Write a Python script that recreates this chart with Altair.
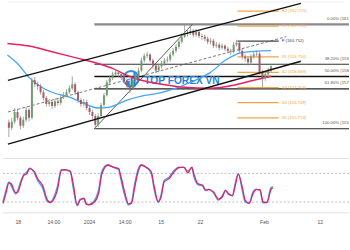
import altair as alt
import pandas as pd

# ---------------- price candles (bar index 0..91) ----------------
closes = [155.06,155.45,156.10,155.71,155.19,155.58,156.23,155.71,158.18,157.92,
          157.79,157.40,157.01,156.62,156.75,156.49,156.81,156.68,157.07,157.20,
          157.40,157.66,157.92,157.40,156.88,156.62,156.75,156.36,156.10,155.84,
          155.25,155.84,156.55,157.20,158.05,158.31,158.57,158.70,158.57,158.37,
          158.18,157.79,157.66,158.18,158.50,158.83,159.48,159.80,159.87,159.48,
          159.15,158.83,159.09,159.28,159.48,159.54,159.87,160.13,160.39,160.71,
          161.04,161.23,161.30,161.43,161.17,161.36,161.10,161.04,160.91,160.71,
          160.78,160.45,160.52,160.32,160.45,160.26,160.13,160.06,160.52,160.65,
          160.13,159.74,159.61,159.35,159.74,159.87,159.93,158.70,158.31,158.57,
          158.83,159.09]
highs = [155.60,155.70,156.35,156.30,155.85,155.80,156.45,156.35,158.35,158.40,
         158.10,157.95,157.55,157.15,156.95,156.90,157.00,156.95,157.25,157.40,
         157.60,157.85,158.44,158.05,157.50,157.00,156.95,156.90,156.50,156.25,
         155.95,156.00,156.70,157.35,158.20,158.50,158.75,158.90,158.85,158.70,
         158.50,158.30,157.95,158.35,158.65,159.00,159.65,159.95,160.06,159.95,
         159.60,159.25,159.25,159.45,159.65,159.75,160.05,160.30,160.55,160.90,
         161.25,161.86,161.55,161.75,161.55,161.55,161.45,161.25,161.20,161.05,
         160.95,160.90,160.70,160.65,160.60,160.55,160.40,160.25,160.70,160.84,
         160.75,160.25,159.90,159.75,159.90,160.05,160.15,160.05,158.85,158.75,
         159.00,159.25]
lows = [154.45,154.90,155.30,155.55,154.95,155.05,155.45,155.50,155.60,157.75,
        157.55,157.25,156.85,156.45,156.45,156.30,156.35,156.50,156.55,156.95,
        157.05,157.30,157.55,157.25,156.70,156.45,156.45,156.20,155.90,155.65,
        155.00,155.10,155.70,156.45,157.10,157.90,158.20,158.45,158.40,158.20,
        158.00,157.60,157.33,157.55,158.05,158.40,158.70,159.35,159.65,159.35,
        158.95,158.65,158.70,158.95,159.15,159.35,159.40,159.75,160.00,160.25,
        160.60,160.95,161.05,161.15,161.00,161.05,160.95,160.85,160.75,160.55,
        160.55,160.30,160.30,160.15,160.20,160.10,159.95,159.85,159.95,160.40,
        159.95,159.55,159.40,159.15,159.20,159.60,159.75,158.55,157.72,158.15,
        158.40,158.70]
first_open = 155.40

# ---------------- moving averages ----------------
pink_i = [-0.5, 7, 15, 23, 31, 36, 41, 46, 53, 61, 70, 78, 85, 91]
pink_v = [160.60,160.43,160.06,159.67,159.28,158.96,158.50,158.18,157.92,157.72,157.66,157.85,158.18,158.44]
blue_i = [-0.5, 3, 7, 12, 16, 21, 25, 31, 35, 41, 46, 52, 58, 63, 70, 75, 81, 91]
blue_v = [159.85,159.28,158.37,157.66,157.33,157.07,156.75,156.36,156.42,156.88,157.14,157.33,157.66,158.05,158.70,159.48,160.00,160.13]

# ---------------- pivots and fibonacci ----------------
pivot_names = ["R2", "R1", "P", "S1", "S2", "S3", "S4", "S5"]
pivot_vals = [162.725, 161.739, 160.752, 159.716, 158.699, 157.703, 156.708, 155.713]
fib_names = ["0.00%", "38.20%", "50.00%", "61.80%", "100.00%"]
fib_vals = [161.860, 159.240, 158.430, 157.620, 155.000]

# trend lines (bar index, price)
chan_up = [(-0.33, 158.175), (101.33, 163.245)]
chan_lo = [(-0.33, 153.985), (101.33, 159.435)]
chan_mid = [(-0.33, 156.095), (96.33, 161.05)]
fib_diag = [(29.67, 155.00), (63.67, 161.86)]

# ---------------- stochastic ----------------
osc_t = [-0.33,0.67,1.67,2.33,4.0,4.67,5.67,6.67,7.67,8.67,
         10.33,11.33,13.0,14.67,15.67,17.0,18.0,19.33,20.67,22.33,
         23.33,24.67,25.67,27.0,27.67,28.67,30.67,32.0,33.0,35.0,
         37.0,38.67,39.33,40.67,42.0,43.0,44.0,45.33,46.33,48.0,
         49.67,50.67,52.0,53.0,54.0,55.67,57.33,59.0,60.67,62.0,
         63.33,64.0,65.33,67.0,68.0,69.0,70.67,72.33,73.67,74.67,
         75.67,77.0,78.0,79.0,80.33,81.33,82.67,84.0,85.0,86.33,
         87.33,88.67,90.0,90.67]
osc_d = [17,38,60,59,39,41,59,76,79,90,83,69,55,24,19,28,45,86,88,85,
         59,14,24,28,17,14,21,41,79,97,93,90,76,41,16,17,48,86,97,93,
         83,52,21,31,62,69,83,92,93,81,93,79,59,55,45,46,41,26,31,44,
         38,33,55,78,52,24,17,38,46,46,21,19,46,50]
osc_k = [20,45,62,55,37,45,64,77,83,91,80,65,50,21,20,33,52,88,87,83,
         50,12,26,27,15,15,25,48,84,98,92,88,70,35,14,20,56,90,98,92,
         80,45,19,36,65,72,86,93,92,85,92,74,57,53,44,47,39,24,34,45,
         36,34,60,80,45,20,18,42,47,44,18,20,50,52]

tick_pos = [4.67, 16.67, 28.67, 40.67, 52.83, 66.1, 87.67, 106.5]
tick_text = ["18", "14:00", "2024", "14:00", "15", "22", "Feb", "12"]

# ---------------- styles ----------------
XD = [-1/3, 350/3 - 1/3]
xs = alt.Scale(domain=XD, nice=False, zero=False)
ys = alt.Scale(domain=[153.495, 163.375], nice=False, zero=False)
os_ = alt.Scale(domain=[-2.7, 111.2], nice=False, zero=False)
UP, DOWN = "#6f9c6c", "#a65a6c"
ORANGE = "#f5a540"
FONT = "Liberation Sans"

opens = [first_open] + closes[:-1]
cdf = pd.DataFrame({"i": list(range(len(closes))), "o": opens, "h": highs, "l": lows, "c": closes})

X = alt.X("x:Q", scale=xs, axis=None)

def seg_df(pts):
    return pd.DataFrame({"x": [pts[0][0]], "x2": [pts[1][0]], "y": [pts[0][1]], "y2": [pts[1][1]]})

def seg(pts, color, width, dash=None):
    kw = dict(color=color, strokeWidth=width, clip=True)
    if dash:
        kw["strokeDash"] = dash
    return alt.Chart(seg_df(pts)).mark_rule(**kw).encode(
        x=X, x2="x2:Q", y=alt.Y("y:Q", scale=ys, axis=None), y2="y2:Q")

# fib horizontal lines
fib_colors = ["#8a8a8a", "#333333", "#111111", "#222222", "#222222"]
fib_widths = [2.2, 1.1, 1.6, 1.3, 1.1]
fdf = pd.DataFrame({"name": fib_names, "v": fib_vals, "col": fib_colors, "w": fib_widths})
fdf["x"] = fib_diag[0][0]
fdf["x2"] = XD[1] + 5
fdf["lx"] = 121.33
fdf["label"] = [f"{n} ({v:.3f})" for n, v in zip(fib_names, fib_vals)]

fib_lines = alt.Chart(fdf).mark_rule(clip=True).encode(
    x=X, x2="x2:Q", y=alt.Y("v:Q", scale=ys, axis=None),
    color=alt.Color("col:N", scale=None), strokeWidth=alt.StrokeWidth("w:Q", scale=None))
fib_text = alt.Chart(fdf).mark_text(align="right", baseline="bottom", dy=-3.5, fontSize=4.3,
                                     font=FONT, color="#555555", clip=True).encode(
    x=alt.X("lx:Q", scale=xs, axis=None), y=alt.Y("v:Q", scale=ys, axis=None), text="label:N")

pdf = pd.DataFrame({"name": pivot_names, "v": pivot_vals})
pdf["x"] = 79.33
pdf["x2"] = 93.67
pdf["lx"] = 94.67
pdf["col"] = [("#444444" if n == "P" else ORANGE) for n in pivot_names]
pdf["label"] = [f"{n} ({v:.3f})" for n, v in zip(pivot_names, pivot_vals)]
piv_lines = alt.Chart(pdf).mark_rule(strokeWidth=1.2, clip=True).encode(
    x=X, x2="x2:Q", y=alt.Y("v:Q", scale=ys, axis=None), color=alt.Color("col:N", scale=None))
piv_text = alt.Chart(pdf).mark_text(align="left", baseline="middle", fontSize=4.3, font=FONT, clip=True).encode(
    x=alt.X("lx:Q", scale=xs, axis=None), y=alt.Y("v:Q", scale=ys, axis=None),
    text="label:N", color=alt.Color("col:N", scale=None))

pink = alt.Chart(pd.DataFrame({"x": pink_i, "v": pink_v})).mark_line(
    color="#e91e63", strokeWidth=1.5, interpolate="monotone", clip=True).encode(
    x=X, y=alt.Y("v:Q", scale=ys, axis=None))
blue = alt.Chart(pd.DataFrame({"x": blue_i, "v": blue_v})).mark_line(
    color="#42a5f5", strokeWidth=1.3, interpolate="monotone", clip=True).encode(
    x=X, y=alt.Y("v:Q", scale=ys, axis=None))

wick = alt.Chart(cdf).mark_rule(color="#8c8c8c", strokeWidth=0.8, clip=True).encode(
    x=alt.X("i:Q", scale=xs, axis=None), y=alt.Y("l:Q", scale=ys, axis=None), y2="h:Q")
body = alt.Chart(cdf).mark_bar(size=2, clip=True).encode(
    x=alt.X("i:Q", scale=xs, axis=None), y=alt.Y("o:Q", scale=ys, axis=None), y2="c:Q",
    color=alt.condition("datum.c >= datum.o", alt.value(UP), alt.value(DOWN)))

# watermark
wm = alt.Chart(pd.DataFrame({"x": [47.0], "v": [158.11], "t": ["TOP FOREX VN"]})).mark_text(
    align="left", baseline="middle", fontSize=10.3, fontWeight="bold", font=FONT, color="#1f84d8").encode(
    x=X, y=alt.Y("v:Q", scale=ys, axis=None), text="t:N")
logo_ring = alt.Chart(pd.DataFrame({"x": [42.4], "v": [158.30]})).mark_point(
    shape="circle", filled=False, size=230, strokeWidth=2.2, color="#1f84d8", opacity=0.9).encode(
    x=X, y=alt.Y("v:Q", scale=ys, axis=None))
logo_bars = alt.Chart(pd.DataFrame({"x": [41.6, 42.6, 43.6], "y": [157.72, 157.72, 157.72],
                                    "y2": [158.15, 158.45, 158.75]})).mark_rule(
    strokeWidth=2, color="#1f84d8").encode(x=X, y=alt.Y("y:Q", scale=ys, axis=None), y2="y2:Q")

top_line = alt.Chart(pd.DataFrame({"x": [XD[0]], "x2": [XD[1]], "v": [163.33]})).mark_rule(
    color="#eeeeee", strokeWidth=1).encode(x=X, x2="x2:Q", y=alt.Y("v:Q", scale=ys, axis=None))

price = alt.layer(
    top_line, fib_lines, piv_lines,
    seg(fib_diag, "#333333", 0.8),
    seg(chan_mid, "#555555", 0.8, [3, 2]),
    wm, logo_ring, logo_bars,
    blue, pink, wick, body,
    seg(chan_up, "#111111", 1.3), seg(chan_lo, "#111111", 1.4),
    fib_text, piv_text,
).properties(width=350, height=152)

# ---------------- oscillator ----------------
odf = pd.DataFrame({"x": osc_t, "k": osc_k, "d": osc_d})
lab_expr = " : ".join(
    f"datum.value < {((tick_pos[j] + tick_pos[j + 1]) / 2):.2f} ? '{tick_text[j]}'" for j in range(len(tick_pos) - 1)
) + f" : '{tick_text[-1]}'"
XO = alt.X("x:Q", scale=xs, axis=alt.Axis(values=tick_pos, labelExpr=lab_expr, domain=False, ticks=False,
                                          grid=False, labelFontSize=5.2, labelColor="#555555", labelFont=FONT,
                                          labelPadding=7, title=None, labelFlush=False))
frame = alt.Chart(pd.DataFrame({"x": [XD[0], XD[0]], "x2": [XD[1], XD[1]], "v": [111.2, -2.7]})).mark_rule(
    color="#e3e3e3", strokeWidth=1).encode(x=XO, x2="x2:Q", y=alt.Y("v:Q", scale=os_, axis=None))
levels = alt.Chart(pd.DataFrame({"x": [XD[0], XD[0]], "x2": [XD[1], XD[1]], "v": [80, 20]})).mark_rule(
    color="#a0a0a0", strokeWidth=0.7, strokeDash=[2, 2]).encode(
    x=XO, x2="x2:Q", y=alt.Y("v:Q", scale=os_, axis=None))
kline = alt.Chart(odf).mark_line(color="#42a5f5", strokeWidth=1.4, interpolate="monotone").encode(
    x=XO, y=alt.Y("k:Q", scale=os_, axis=None))
dline = alt.Chart(odf).mark_line(color="#e91e63", strokeWidth=1.3, interpolate="monotone").encode(
    x=XO, y=alt.Y("d:Q", scale=os_, axis=None))
osc = alt.layer(frame, levels, kline, dline).properties(width=350, height=55)

chart = (alt.vconcat(price, osc, spacing=6)
         .properties(padding=0)
         .configure_view(stroke=None)
         .configure_axis(labelColor="#555555"))
chart.save("out.html", embed_options={"renderer": "svg", "actions": False})
